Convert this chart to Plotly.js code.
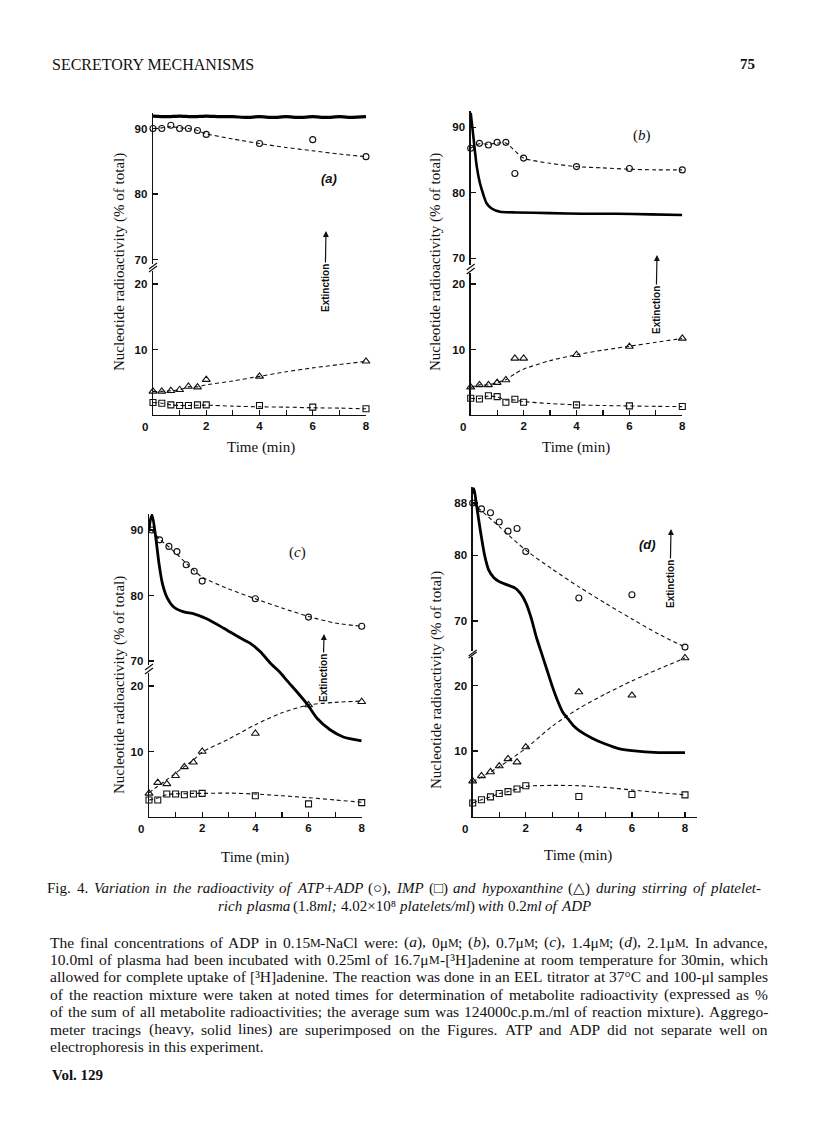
<!DOCTYPE html>
<html><head><meta charset="utf-8">
<script src="https://cdn.plot.ly/plotly-3.0.1.min.js"></script>
<style>html,body{margin:0;padding:0;background:#fff}#chart{width:816px;height:1136px}</style>
</head><body><div id="chart"></div>
<script>
// ---------------- DATA ----------------
const timesStd = [0,0.33,0.67,1,1.33,1.67,2,4,6,8];
const fitT13   = [0,0.33,0.67,1,1.33,1.67,2,3,4,5,6,7,8];
const fitT9    = [0,1,2,3,4,5,6,7,8];

// (a) 0 uM ADP
const aCircleT = timesStd;
const aCircle  = [90,90,90.5,90,90,89.7,89.1,87.7,88.3,85.7];
const aCircleFit = [90,90.1,90.3,90.1,90,89.7,89.2,88.4,87.7,87.1,86.6,86.1,85.7];
const aTriT = [0,0.33,0.67,1,1.33,1.67,2,4,8];
const aTri  = [3.6,3.6,3.7,3.85,4.35,4.25,5.4,5.9,8.2];
const aTriFit = [3.6,3.6,3.7,3.85,4.3,4.3,4.6,5.2,5.9,6.6,7.2,7.7,8.2];
const aSqT = timesStd;
const aSq  = [1.9,1.8,1.55,1.45,1.45,1.55,1.55,1.45,1.2,0.95];
const aSqFit = [1.9,1.8,1.55,1.45,1.45,1.5,1.5,1.35,1.25,1.2,1.1,1.05,0.95];
const aHeavyT = [0,0.5,1,1.5,2,2.5,3,3.5,4,4.5,5,5.5,6,6.5,7,7.5,8];
const aHeavy  = [91.9,91.8,91.9,91.8,91.9,91.8,91.8,91.7,91.8,91.7,91.8,91.7,91.8,91.7,91.8,91.7,91.8];

// (b) 0.7 uM ADP
const bCircleT = timesStd;
const bCircle  = [86.8,87.55,87.3,87.7,87.7,82.95,85.3,84.0,83.7,83.5];
const bCircleFit = [86.8,87.5,87.4,87.6,87.6,86.4,85.3,84.5,84.0,83.8,83.6,83.5,83.5];
const bTriT = timesStd;
const bTri  = [4.25,4.6,4.6,4.95,5.35,8.65,8.65,9.2,10.45,11.7];
const bTriFit = [4.2,4.6,4.6,4.95,5.4,6.3,7.0,8.3,9.2,9.9,10.5,11.1,11.7];
const bSqT = timesStd;
const bSq  = [2.55,2.45,2.95,2.8,1.95,2.4,1.95,1.55,1.4,1.3];
const bSqFit = [2.55,2.5,2.9,2.75,2.3,2.3,2.05,1.75,1.55,1.45,1.38,1.32,1.28];
const bHeavyT = [0,0.1,0.23,0.35,0.48,0.6,0.79,1.11,1.74,3,4.26,5.5,6.78,8];
const bHeavy  = [92.2,88.6,84.0,81.45,79.7,78.4,77.6,77.1,77.0,76.9,76.8,76.8,76.7,76.6];

// (c) 1.4 uM ADP
const cCircleT = [0.1,0.4,0.75,1.05,1.4,1.7,2,4,6,8];
const cCircle  = [90,88.5,87.5,86.7,84.7,83.7,82.2,79.5,76.7,75.3];
const cCircleFitT = [0.1,0.4,0.75,1.05,1.4,1.7,2,3,4,5,6,7,8];
const cCircleFit  = [90,88.6,87.4,86.3,84.9,83.8,82.8,81.0,79.5,78.1,76.8,75.8,75.3];
const cTriT = timesStd;
const cTri  = [3.6,5.25,5.05,6.3,7.65,8.35,10.0,12.75,17.1,17.6];
const cTriFit = [3.7,4.7,5.7,6.7,7.7,8.7,9.9,11.9,14.1,15.9,17.1,17.5,17.7];
const cSqT = timesStd;
const cSq  = [2.6,2.6,3.5,3.5,3.4,3.5,3.6,3.25,2.0,2.2];
const cSqFit = [2.6,2.9,3.4,3.55,3.55,3.6,3.6,3.65,3.5,3.25,2.95,2.6,2.25];
const cHeavyT = [0,0.05,0.12,0.25,0.375,0.5,0.69,0.94,1.31,1.69,2.19,2.81,3.44,3.81,4.19,4.56,4.94,5.19,5.56,5.97,6.31,6.81,7.31,8];
const cHeavy  = [90.0,91.5,92.3,89.0,84.9,81.9,79.6,78.2,77.5,77.2,76.4,75.0,73.5,72.7,71.4,69.7,68.2,67.0,65.3,63.3,61.3,59.5,58.4,57.8];

// (d) 2.1 uM ADP
const dCircleT = timesStd;
const dCircle  = [88,87.1,86.5,85.1,83.7,84.1,80.6,73.5,74.0,66.0];
const dCircleFit = [88,84.4,80.8,77.9,75.2,72.7,70.3,68.0,66.0];
const dTriT = timesStd;
const dTri  = [5.4,6.2,6.8,7.7,8.8,8.3,10.6,19.0,18.5,24.2];
const dTriFit = [5.3,7.6,10.4,13.8,16.5,18.7,20.7,22.5,24.2];
const dSqT = timesStd;
const dSq  = [2.05,2.55,3.0,3.5,3.8,4.2,4.7,3.05,3.35,3.3];
const dSqFit = [2.05,2.55,3.0,3.5,3.8,4.2,4.6,4.75,4.7,4.45,4.05,3.65,3.3];
const dHeavyT = [0,0.05,0.15,0.3,0.45,0.6,0.8,1.0,1.3,1.6,1.8,2.0,2.2,2.4,2.6,2.8,3.0,3.2,3.4,3.6,3.8,4.0,4.5,5.0,5.5,6.0,7.0,8.0];
const dHeavy  = [89.4,90.2,87.5,83.5,80.0,77.8,76.6,76.0,75.5,75.0,74.2,72.8,70.5,67.5,65.0,62.5,60.0,57.8,56.0,55.0,54.0,53.3,52.1,51.2,50.5,50.2,49.9,49.9];

const xTickVals = [2,4,6,8];
const xTickText = ['2','4','6','8'];
const lowTickVals = [10,20];
const panelLabels = ['(a)','(b)','(c)','(d)'];
const yTitle = 'Nucleotide radioactivity (% of total)';
const xTitle = 'Time (min)';
const extinctionText = 'Extinction';

// ---------------- TEXT ----------------
const headerLeft = 'SECRETORY MECHANISMS';
const headerRight = '75';
const captionLines = [
 '<r>Fig.</r> <r>4.</r> Variation in the radioactivity of ATP+ADP <r>(○),</r> IMP <r>(□)</r> and hypoxanthine <r>(△)</r> during stirring of platelet-',
 'rich plasma <r>(1.8</r>ml; <r>4.02×10⁸</r> platelets/ml<r>)</r> with <r>0.2</r>ml of ADP'
];
const bodyLines = [
 'The final concentrations of ADP in 0.15<sc>M</sc>-NaCl were: (<i>a</i>), 0μ<sc>M</sc>; (<i>b</i>), 0.7μ<sc>M</sc>; (<i>c</i>), 1.4μ<sc>M</sc>; (<i>d</i>), 2.1μ<sc>M</sc>. In advance,',
 '10.0ml of plasma had been incubated with 0.25ml of 16.7μ<sc>M</sc>-[³H]adenine at room temperature for 30min, which',
 'allowed for complete uptake of [³H]adenine. The reaction was done in an EEL titrator at 37°C and 100-μl samples',
 'of the reaction mixture were taken at noted times for determination of metabolite radioactivity (expressed as %',
 'of the sum of all metabolite radioactivities; the average sum was 124000c.p.m./ml of reaction mixture). Aggrego-',
 'meter tracings (heavy, solid lines) are superimposed on the Figures. ATP and ADP did not separate well on',
 'electrophoresis in this experiment.'
];
const footer = 'Vol. 129';

// ---------------- LAYOUT GEOMETRY (pixels on the page) ----------------
const W = 816, H = 1136, S = 6.55;
const fx = px => px / W, fy = py => 1 - py / H;
const panels = [
 {x0:153,   x8:366,   xEnd:366, upRefV:90, upRefPx:128.5, upTop:113, upBot:264, lowZero:415,   lowTop:271, upTicks:[70,80,90],
  circ:[aCircleT,aCircle], circFit:[fitT13,aCircleFit], tri:[aTriT,aTri], triFit:[fitT13,aTriFit], sq:[aSqT,aSq], sqFit:[fitT13,aSqFit], heavy:[aHeavyT,aHeavy], hw:3.2,
  lab:{x:329,y:178,f:'sansi'}, ext:{x:325,y:288,head:231}, yt:{x:120,y:262}, xt:{x:261,y:448}},
 {x0:470.7, x8:682.3, xEnd:682.3, upRefV:90, upRefPx:127.3, upTop:111, upBot:265, lowZero:415, lowTop:273, upTicks:[70,80,90],
  circ:[bCircleT,bCircle], circFit:[fitT13,bCircleFit], tri:[bTriT,bTri], triFit:[fitT13,bTriFit], sq:[bSqT,bSq], sqFit:[fitT13,bSqFit], heavy:[bHeavyT,bHeavy], hw:2.6,
  lab:{x:642,y:135,f:'serif'}, ext:{x:656,y:310,head:255}, yt:{x:436,y:262}, xt:{x:576,y:448}},
 {x0:149,   x8:361.7, xEnd:361.7, upRefV:90, upRefPx:530, upTop:514, upBot:665, lowZero:817, lowTop:673, upTicks:[70,80,90],
  circ:[cCircleT,cCircle], circFit:[cCircleFitT,cCircleFit], tri:[cTriT,cTri], triFit:[fitT13,cTriFit], sq:[cSqT,cSq], sqFit:[fitT13,cSqFit], heavy:[cHeavyT,cHeavy], hw:2.8,
  lab:{x:297,y:552,f:'serif'}, ext:{x:323,y:678,head:634}, yt:{x:119,y:685}, xt:{x:255,y:857}},
 {x0:472.7, x8:685,   xEnd:697, upRefV:88, upRefPx:503, upTop:487, upBot:651, lowZero:816.5, lowTop:657, upTicks:[70,80,88],
  circ:[dCircleT,dCircle], circFit:[fitT9,dCircleFit], tri:[dTriT,dTri], triFit:[fitT9,dTriFit], sq:[dSqT,dSq], sqFit:[fitT13,dSqFit], heavy:[dHeavyT,dHeavy], hw:2.8,
  lab:{x:647,y:544,f:'sansi'}, ext:{x:670,y:584,head:529}, yt:{x:436,y:680}, xt:{x:578,y:855}}
];

const INK = '#111';
const tickFont = {family:'Liberation Sans, Arial, sans-serif', size:11.5, color:INK, weight:700};
const serif = 'Liberation Serif, Times New Roman, serif';
const sans = 'Liberation Sans, Arial, sans-serif';

const traces = [], layout = {
  width:W, height:H, margin:{l:0,r:0,t:0,b:0}, showlegend:false,
  paper_bgcolor:'#fff', plot_bgcolor:'rgba(0,0,0,0)', annotations:[], shapes:[]
};
const ann = o => Object.assign({xref:'paper', yref:'paper', showarrow:false, xanchor:'center', yanchor:'middle'}, o);

panels.forEach((p, i) => {
  const xs = i ? String(i+1) : '';
  const iu = 3*i+1, il = 3*i+2, ih = 3*i+3;
  const yu = 'y'+(iu===1?'':iu), yl = 'y'+il, yh = 'y'+ih;
  const xa = 'x'+xs;
  const ppm = (p.x8 - p.x0)/8;
  const tickStyle = {ticks:'inside', ticklen:5, tickwidth:1.2, tickcolor:INK, showline:true, linecolor:INK, linewidth:1.3,
                     tickfont:tickFont, showgrid:false, zeroline:false, fixedrange:true};
  layout['xaxis'+xs] = Object.assign({
    domain:[fx(p.x0), fx(p.xEnd)], range:[0,(p.xEnd-p.x0)/ppm], anchor:yl,
    tickvals:xTickVals, ticktext:xTickText,
    minor:{dtick:1, tick0:0, ticks:'inside', ticklen:5, tickwidth:1.2, tickcolor:INK, showgrid:false}
  }, tickStyle);
  layout['yaxis'+(iu===1?'':iu)] = Object.assign({
    domain:[fy(p.upBot), fy(p.upTop)],
    range:[p.upRefV-(p.upBot-p.upRefPx)/S, p.upRefV+(p.upRefPx-p.upTop)/S], anchor:xa,
    tickvals:p.upTicks, ticklabelstandoff:2
  }, tickStyle);
  layout['yaxis'+il] = Object.assign({
    domain:[fy(p.lowZero), fy(p.lowTop)], range:[0,(p.lowZero-p.lowTop)/S], anchor:xa,
    tickvals:lowTickVals, ticklabelstandoff:2
  }, tickStyle);
  layout['yaxis'+ih] = {
    domain:[fy(p.lowZero), fy(p.upTop)],
    range:[p.upRefV-(p.lowZero-p.upRefPx)/S, p.upRefV+(p.upRefPx-p.upTop)/S], anchor:xa,
    visible:false, fixedrange:true
  };
  const dash = {color:INK, width:1.1, dash:'4px,3px', shape:'spline', smoothing:0.7};
  const mk = (sym, sz) => ({symbol:sym, size:sz, color:INK, line:{color:INK, width:1.1}});
  traces.push({x:p.heavy[0], y:p.heavy[1], xaxis:xa, yaxis:yh, mode:'lines', line:{color:'#000', width:p.hw, shape:'spline', smoothing:0.6}, hoverinfo:'skip'});
  traces.push({x:p.circFit[0], y:p.circFit[1], xaxis:xa, yaxis:yu, mode:'lines', line:dash, hoverinfo:'skip'});
  traces.push({x:p.circ[0], y:p.circ[1], xaxis:xa, yaxis:yu, mode:'markers', marker:mk('circle-open',6), cliponaxis:false});
  traces.push({x:p.triFit[0], y:p.triFit[1], xaxis:xa, yaxis:yl, mode:'lines', line:dash, hoverinfo:'skip'});
  traces.push({x:p.tri[0], y:p.tri[1], xaxis:xa, yaxis:yl, mode:'markers', marker:mk('triangle-up-open',7), cliponaxis:false});
  traces.push({x:p.sqFit[0], y:p.sqFit[1], xaxis:xa, yaxis:yl, mode:'lines', line:dash, hoverinfo:'skip'});
  traces.push({x:p.sq[0], y:p.sq[1], xaxis:xa, yaxis:yl, mode:'markers', marker:mk('square-open',6), cliponaxis:false});

  const A = layout.annotations;
  A.push(ann({x:fx(p.x0-8), y:fy(p.lowZero+12), text:'0', font:tickFont}));
  const lf = p.lab.f === 'serif'
    ? {family:serif, size:15, color:INK}
    : {family:sans, size:13, color:INK, weight:700, style:'italic'};
  const ltxt = p.lab.f === 'serif' ? '(<i>'+panelLabels[i].slice(1,2)+'</i>)' : panelLabels[i];
  A.push(ann({x:fx(p.lab.x), y:fy(p.lab.y), text:ltxt, font:lf}));
  A.push({xref:'paper', yref:'paper', x:fx(p.ext.x+1), y:fy(p.ext.head), axref:'pixel', ayref:'pixel', ax:-1, ay:(p.ext.y-p.ext.head),
          xanchor:'center', yanchor:'middle', text:extinctionText, textangle:-90, showarrow:true, arrowhead:2, arrowsize:1,
          arrowwidth:1.2, arrowcolor:INK, standoff:0, startstandoff:0, font:{family:sans, size:10, color:INK, weight:700}});
  A.push(ann({x:fx(p.yt.x), y:fy(p.yt.y), text:yTitle, textangle:-90, font:{family:serif, size:15, color:INK}}));
  A.push(ann({x:fx(p.xt.x), y:fy(p.xt.y), text:xTitle, font:{family:serif, size:15, color:INK}}));
  [p.upBot+2, p.lowTop-2].forEach(py => {
    layout.shapes.push({type:'line', xref:'paper', yref:'paper', x0:fx(p.x0-4), y0:fy(py+3), x1:fx(p.x0+4), y1:fy(py-3), line:{color:INK, width:1.2}});
  });
});

// ---------------- page text with justified lines ----------------
const cvs = document.createElement('canvas'); const ctx = cvs.getContext('2d');
function parseWord(word, baseItalic){
  const segs = []; let italic = baseItalic, sc = false;
  for (const part of word.split(/(<\/?(?:i|r|sc)>)/)) {
    if (!part) continue;
    if (part==='<i>'){italic=true;continue;} if (part==='</i>'){italic=baseItalic;continue;}
    if (part==='<r>'){italic=false;continue;} if (part==='</r>'){italic=baseItalic;continue;}
    if (part==='<sc>'){sc=true;continue;} if (part==='</sc>'){sc=false;continue;}
    segs.push({t:part, italic, sc});
  }
  return segs;
}
const SC = 0.78;
function measure(segs, size, fam){
  let w = 0;
  for (const s of segs){
    const sz = s.sc ? size*SC : size;
    ctx.font = (s.italic?'italic ':'') + sz + 'px ' + fam; w += ctx.measureText(s.t).width;
  }
  return w;
}
const markup = segs => segs.map(s => s.italic ? '<i>'+s.t+'</i>' : s.t).join('');
function runs(segs){
  const out = [];
  segs.forEach(s => {
    const last = out[out.length-1];
    if (last && last.sc === s.sc) last.segs.push(s); else out.push({sc:s.sc, segs:[s]});
  });
  return out;
}
function placeLine(line, opt){
  const words = line.split(' ').map(w => parseWord(w, opt.italic));
  const ws = words.map(s => measure(s, opt.size, opt.fam));
  const total = ws.reduce((a,b)=>a+b,0);
  ctx.font = opt.size+'px '+opt.fam; const sp = ctx.measureText(' ').width;
  let gap = sp, x = opt.x0;
  if (opt.mode === 'justify' && words.length > 1) gap = (opt.x1 - opt.x0 - total)/(words.length-1);
  if (opt.mode === 'center') x = opt.cx - (total + sp*(words.length-1))/2;
  words.forEach((segs, k) => {
    let xr = x;
    runs(segs).forEach(r => {
      const sz = r.sc ? opt.size*SC : opt.size;
      const yOff = r.sc ? (opt.size - sz)*0.32 : 0;
      layout.annotations.push({xref:'paper', yref:'paper', x:fx(xr-1), y:fy(opt.y + yOff), xanchor:'left', yanchor:'middle',
        text:markup(r.segs), showarrow:false, font:{family:opt.fam, size:sz, color:INK}, borderpad:0});
      xr += measure(r.segs, opt.size, opt.fam);
    });
    x += ws[k] + gap;
  });
}
const serifFam = 'Liberation Serif';
layout.annotations.push({xref:'paper', yref:'paper', x:fx(50), y:fy(64), xanchor:'left', yanchor:'middle', text:headerLeft, showarrow:false, font:{family:serif, size:16, color:INK}});
layout.annotations.push({xref:'paper', yref:'paper', x:fx(757), y:fy(64), xanchor:'right', yanchor:'middle', text:'<b>'+headerRight+'</b>', showarrow:false, font:{family:serif, size:15, color:INK}});
placeLine(captionLines[0], {italic:true, size:15, fam:serifFam, mode:'justify', x0:47, x1:760, y:888});
placeLine(captionLines[1], {italic:true, size:15, fam:serifFam, mode:'center', cx:404, y:906});
bodyLines.forEach((ln, k) => {
  placeLine(ln, {italic:false, size:15.5, fam:serifFam, mode:(k < bodyLines.length-1 ? 'justify' : 'left'), x0:50, x1:768, y:942 + k*17.4});
});
layout.annotations.push({xref:'paper', yref:'paper', x:fx(50), y:fy(1075), xanchor:'left', yanchor:'middle', text:'<b>'+footer+'</b>', showarrow:false, font:{family:serif, size:15, color:INK}});

Plotly.newPlot('chart', traces, layout, {displayModeBar:false, staticPlot:true});
</script></body></html>
